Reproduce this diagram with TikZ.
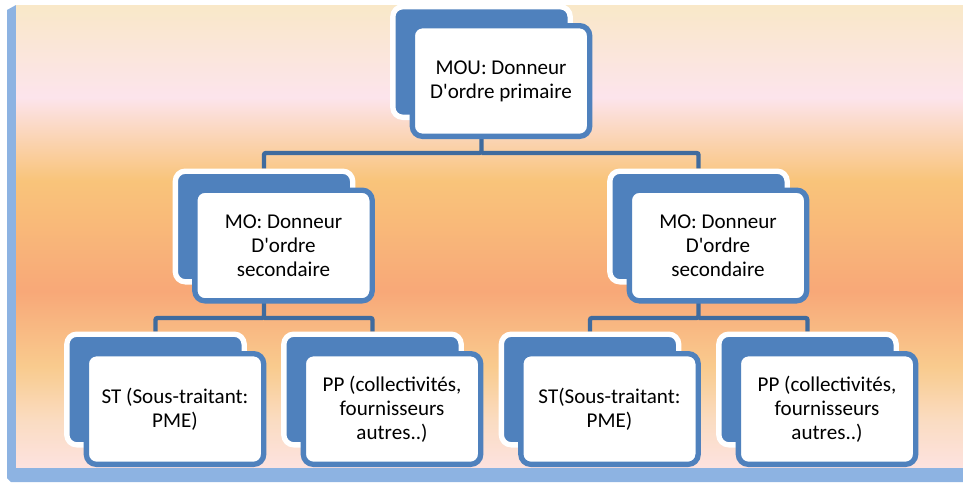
\documentclass[tikz,border=0pt]{standalone}
\usepackage{fontspec}
\setmainfont{Carlito}
\usepackage{tikz}
\usetikzlibrary{calc}
\definecolor{bleu_office}{HTML}{4F81BD}
\definecolor{bleu_lien}{HTML}{3F6B9E}
\definecolor{bleu_cadre}{HTML}{8DB3E2}
\definecolor{peche0}{HTML}{FDE2DF}
\definecolor{peche1}{HTML}{FADCC2}
\definecolor{peche2}{HTML}{F9CB8E}
\definecolor{peche3}{HTML}{F8A878}
\definecolor{peche4}{HTML}{F9C47A}
\definecolor{peche5}{HTML}{FCE4EC}
\definecolor{peche6}{HTML}{F9E8C8}
\pgfdeclareverticalshading{fond_peche}{100bp}{color(0bp)=(peche0); color(25bp)=(peche0); color(30bp)=(peche1); color(35.8bp)=(peche2); color(44bp)=(peche3); color(56bp)=(peche4); color(65bp)=(peche5); color(75bp)=(peche6); color(100bp)=(peche6)}
\pgfdeclarelayer{fond}
\pgfdeclarelayer{liens}
\pgfsetlayers{fond,liens,main}

\begin{document}
\begin{tikzpicture}[x=0.75pt,y=-0.75pt,
    dos/.style={draw=white, fill=bleu_office, line width=4pt, rounded corners=7.5pt,
        minimum width=133pt, minimum height=83pt, inner sep=0pt},
    devant/.style={draw=bleu_office, fill=white, line width=4pt, rounded corners=7.5pt,
        minimum width=133pt, minimum height=83pt, inner sep=0pt, align=center,
        font=\fontsize{15.8}{18}\selectfont},
    lien/.style={draw=bleu_lien, line width=3.3pt, rounded corners=1.5pt}]

        \useasboundingbox (0,0) rectangle (963,483);

        % Fond dégradé et cadre bleu
        \begin{pgfonlayer}{fond}
        \fill[bleu_cadre] (7,10) -- (16,5) -- (16,467) -- (963,467) -- (963,482) -- (11,482) -- (7,478) -- cycle;
        \shade[shading=fond_peche] (16,5) rectangle (963,467);
        \end{pgfonlayer}

        % Niveaux des lignes horizontales
        \coordinate (rang1) at (0,153);
        \coordinate (rang2) at (0,318);

        % Donneur d'ordre primaire
        \node[dos] (mou-b) at (481.5,62) {};
        \node[devant] (mou-f) at ($(mou-b)+(19.5,19)$) {MOU: Donneur\\D\textquotesingle ordre primaire};

        % Donneurs d'ordre secondaires
        \node[dos] (mog-b) at (264,226.5) {};
        \node[devant] (mog-f) at ($(mog-b)+(19.5,19)$) {MO: Donneur\\D\textquotesingle ordre\\secondaire};
        \node[dos] (mod-b) at (698.5,226.5) {};
        \node[devant] (mod-f) at ($(mod-b)+(19.5,19)$) {MO: Donneur\\D\textquotesingle ordre\\secondaire};

        % Sous-traitants et PP
        \node[dos] (stg-b) at (155.5,389.5) {};
        \node[devant] (stg-f) at ($(stg-b)+(19.5,19.5)$) {ST (Sous-traitant:\\PME)};
        \node[dos] (ppg-b) at (372.5,389.5) {};
        \node[devant] (ppg-f) at ($(ppg-b)+(19.5,19.5)$) {PP (collectivités,\\fournisseurs\\autres..)};
        \node[dos] (std-b) at (590,389.5) {};
        \node[devant] (std-f) at ($(std-b)+(19.5,19.5)$) {ST(Sous-traitant:\\PME)};
        \node[dos] (ppd-b) at (807.5,389.5) {};
        \node[devant] (ppd-f) at ($(ppd-b)+(19.5,19.5)$) {PP (collectivités,\\fournisseurs\\autres..)};

        % Liaisons entre les niveaux
        \begin{pgfonlayer}{liens}
        \draw[lien] (mou-b) -- (mou-b |- rang1) -| (mog-b);
        \draw[lien] (mou-b |- rang1) -| (mod-b);
        \draw[lien] (mog-b) -- (mog-b |- rang2) -| (stg-b);
        \draw[lien] (mog-b |- rang2) -| (ppg-b);
        \draw[lien] (mod-b) -- (mod-b |- rang2) -| (std-b);
        \draw[lien] (mod-b |- rang2) -| (ppd-b);
        \end{pgfonlayer}
    \end{tikzpicture}
\end{document}
